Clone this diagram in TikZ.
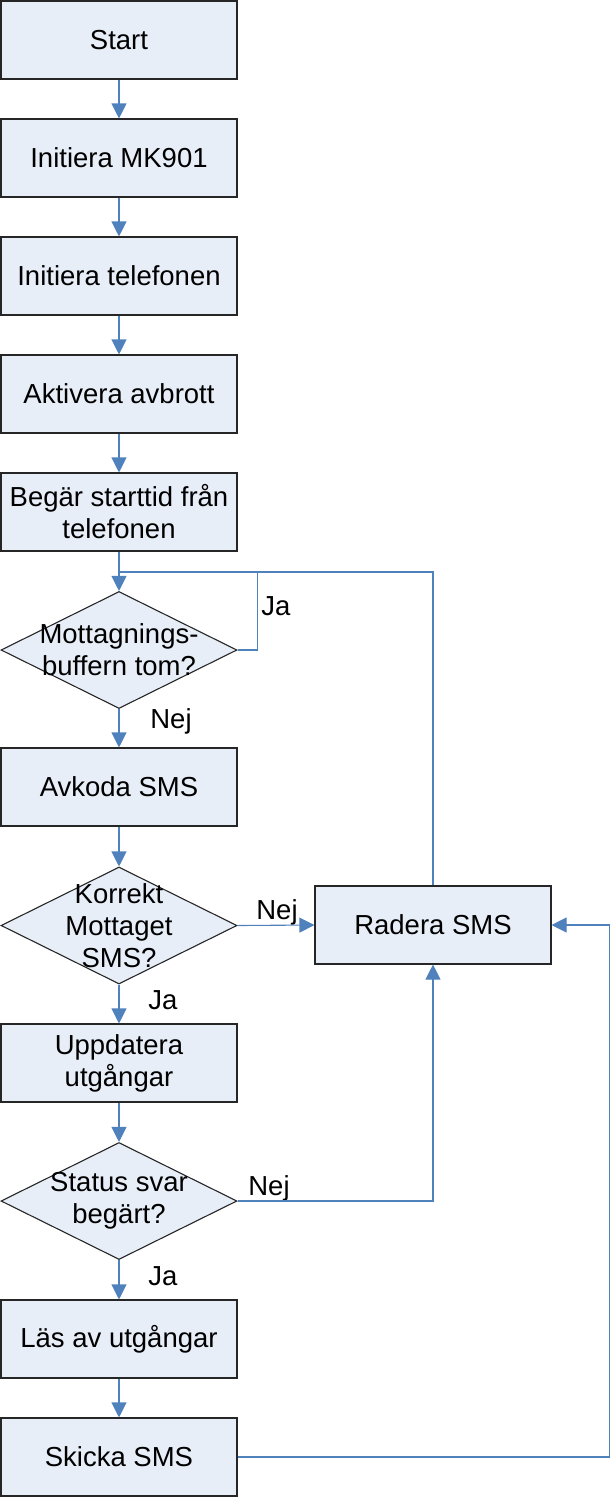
\documentclass[tikz,border=0pt]{standalone}
\usepackage{fontspec}
\setmainfont{Liberation Sans}
\usetikzlibrary{arrows.meta,shapes.geometric}
\definecolor{rutfarg}{HTML}{E8EEF8}
\definecolor{linjefarg}{HTML}{4F81BD}
\begin{document}
\begin{tikzpicture}[x=1pt,y=-1pt,
 txt/.style={font=\fontsize{27.5}{32}\selectfont,align=center,inner sep=0pt},
 ruta/.style={txt,draw=black!85,fill=rutfarg,line width=1.1pt,minimum width=236pt,minimum height=78pt},
 romb/.style={diamond,draw=black!85,fill=rutfarg,line width=1.1pt,inner sep=0pt,minimum width=236pt,minimum height=117pt},
 linje/.style={draw=linjefarg,line width=1.1pt},
 pil/.style={linje,-{Triangle[width=15pt,length=15pt]}}]
\useasboundingbox (0,0) rectangle (611,1497);
% huvudkolumnen
\node[ruta] (S) at (119,40) {Start};
\node[ruta] (I1) at (119,158) {Initiera MK901};
\node[ruta] (I2) at (119,276) {Initiera telefonen};
\node[ruta] (A) at (119,394) {Aktivera avbrott};
\node[ruta] (B) at (119,512) {Begär starttid från\\telefonen};
\node[romb] (D1) at (119,650) {};
\node[txt] (D1t) at (D1) {Mottagnings-\\buffern tom?};
\node[ruta] (AV) at (119,787) {Avkoda SMS};
\node[romb] (D2) at (119,925.5) {};
\node[txt] (D2t) at (D2) {Korrekt\\Mottaget\\SMS?};
\node[ruta] (U) at (119,1063) {Uppdatera\\utgångar};
\node[romb] (D3) at (119,1201) {};
\node[txt] (D3t) at (D3) {Status svar\\begärt?};
\node[ruta] (L) at (119,1339) {Läs av utgångar};
\node[ruta] (SK) at (119,1457) {Skicka SMS};
\node[ruta] (R) at (433,925) {Radera SMS};
\coordinate (J) at (119,572);
% etiketter
\node[txt] (ja1) at (276,606) {Ja};
\node[txt] (nej1) at (171,721) {Nej};
\node[txt] (nej2) at (277,912) {Nej};
\node[txt] (ja2) at (163,1000) {Ja};
\node[txt] (nej3) at (269,1188) {Nej};
\node[txt] (ja3) at (163,1276) {Ja};
% pilar
\foreach \a/\b in {S/I1, I1/I2, I2/A, A/B, B/D1, D1/AV, AV/D2, D2/U, U/D3, D3/L, L/SK}
 \draw[pil] (\a) -- (\b);
\draw[linje] (D1.east) -- ++(20,0) |- (J);
\draw[linje] (R.north) |- (J);
\draw[pil] (D2.east) -- (R.west);
\draw[pil] (D3.east) -| (R.south);
\draw[pil] (SK.east) -- ++(372,0) |- (R.east);
\end{tikzpicture}
\end{document}
